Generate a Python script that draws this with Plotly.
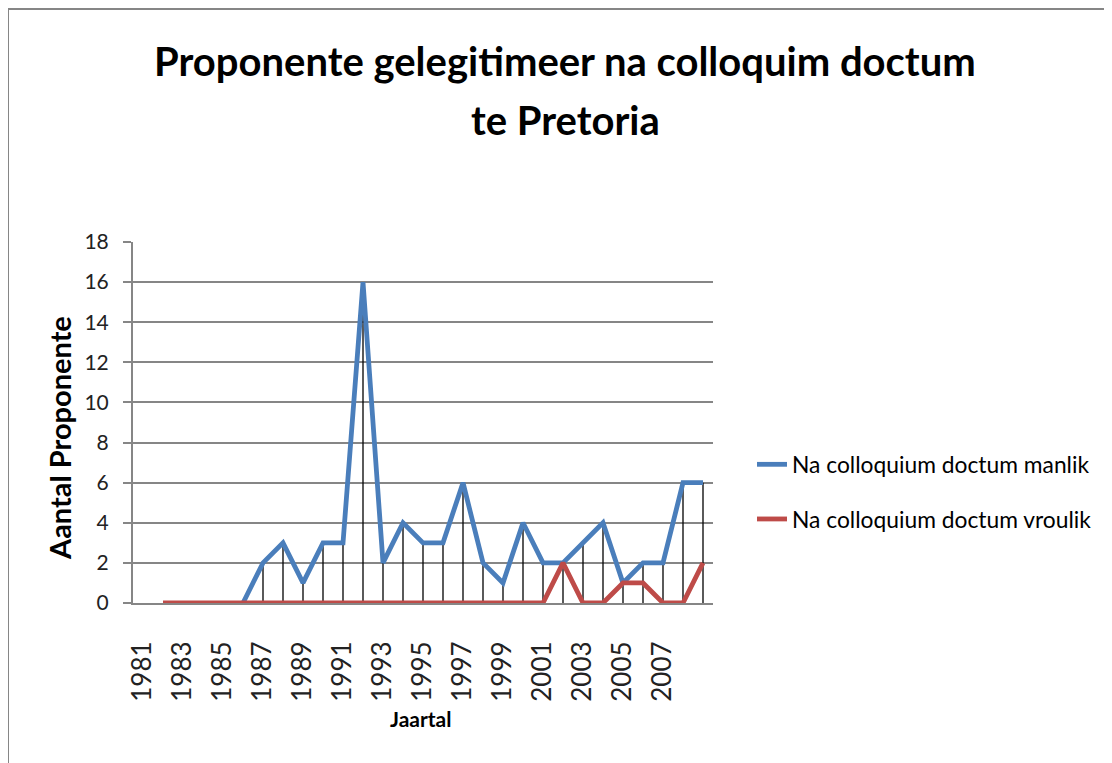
import plotly.graph_objects as go

years = list(range(1981, 2010))
manlik = [None, None, None, None, None,
          0, 2, 3, 1, 3, 3, 16, 2, 4, 3, 3, 6, 2, 1, 4, 2, 2, 3, 4, 1, 2, 2, 6, 6]
vroulik = [None,
           0, 0, 0, 0, 0, 0, 0, 0, 0, 0, 0, 0, 0, 0, 0, 0, 0, 0, 0, 0,
           2, 0, 0, 1, 1, 0, 0, 2]
tick_years = list(range(1981, 2009, 2))
y_ticks = list(range(0, 19, 2))

title_line1 = "Proponente gelegitimeer na colloquim doctum"
title_line2 = "te Pretoria"
name_m = "Na colloquium doctum manlik"
name_v = "Na colloquium doctum vroulik"
x_title = "Jaartal"
y_title = "Aantal Proponente"

FONT = "Lato"
GRID = "#868686"
BLUE = "#4A7EBB"
RED = "#BE4B48"

# drop lines from the highest value of each category down to the axis
dx, dy = [], []
for yr, m, v in zip(years, manlik, vroulik):
    vals = [a for a in (m, v) if a is not None]
    if vals and max(vals) > 0:
        dx += [yr, yr, None]
        dy += [0, max(vals), None]

fig = go.Figure()
fig.add_trace(go.Scatter(x=dx, y=dy, mode="lines", line=dict(color="black", width=1.3),
                         showlegend=False, hoverinfo="skip"))
fig.add_trace(go.Scatter(x=years, y=manlik, mode="lines", name=name_m,
                         line=dict(color=BLUE, width=4.8), legendgroup="m"))
fig.add_trace(go.Scatter(x=years, y=vroulik, mode="lines", name=name_v,
                         line=dict(color=RED, width=4.8), legendgroup="v"))

OFF = 8  # page body margin
W, H = 1112, 763
L, T = 133 - OFF, 242 - OFF
pw, ph = 580, 361
R = W - L - pw
B = H - T - ph

def px_x(p):  # page pixel -> paper x
    return (p - OFF - L) / pw

def px_y(p):  # page pixel -> paper y
    return (T + ph - (p - OFF)) / ph

fig.update_layout(
    width=W, height=H,
    margin=dict(l=L, r=R, t=T, b=B),
    paper_bgcolor="white", plot_bgcolor="white",
    font=dict(family=FONT, color="black"),
    showlegend=True,
    legend=dict(x=px_x(752), xanchor="left", y=px_y(443), yanchor="top",
                font=dict(family=FONT, size=22.8, color="black"),
                tracegroupgap=22, bgcolor="rgba(0,0,0,0)"),
    xaxis=dict(range=[1980.5, 2009.5], tickmode="array", tickvals=tick_years,
               ticktext=[str(t) for t in tick_years], tickangle=-90,
               tickfont=dict(family=FONT, size=26, color="#222222"),
               ticks="outside", ticklen=26, tickcolor="rgba(0,0,0,0)",
               showgrid=False, zeroline=False,
               showline=True, linecolor=GRID, linewidth=2),
    yaxis=dict(range=[0, 18], tickmode="array", tickvals=y_ticks,
               tickfont=dict(family=FONT, size=21, color="#222222"),
               ticks="outside", ticklen=8, tickcolor=GRID, tickwidth=1.5,
               ticklabelstandoff=10,
               showgrid=True, gridcolor=GRID, gridwidth=1.5, zeroline=False,
               showline=True, linecolor=GRID, linewidth=2),
    annotations=[
        dict(text=title_line1, xref="paper", yref="paper", x=px_x(565), y=px_y(61),
             xanchor="center", yanchor="middle", showarrow=False,
             font=dict(family=FONT, size=40, weight="bold", color="black")),
        dict(text=title_line2, xref="paper", yref="paper", x=px_x(565), y=px_y(120),
             xanchor="center", yanchor="middle", showarrow=False,
             font=dict(family=FONT, size=40, weight="bold", color="black")),
        dict(text=x_title, xref="paper", yref="paper", x=px_x(420), y=px_y(718),
             xanchor="center", yanchor="middle", showarrow=False,
             font=dict(family=FONT, size=21, weight="bold", color="black")),
        dict(text=y_title, xref="paper", yref="paper", x=px_x(59), y=px_y(438),
             xanchor="center", yanchor="middle", showarrow=False, textangle=-90,
             font=dict(family=FONT, size=29, weight="bold", color="black")),
    ],
    shapes=[dict(type="rect", xref="paper", yref="paper",
                 x0=px_x(8), x1=px_x(1140), y0=px_y(800), y1=px_y(9),
                 line=dict(color=GRID, width=2), layer="below")],
)

fig.write_html("out.html")
